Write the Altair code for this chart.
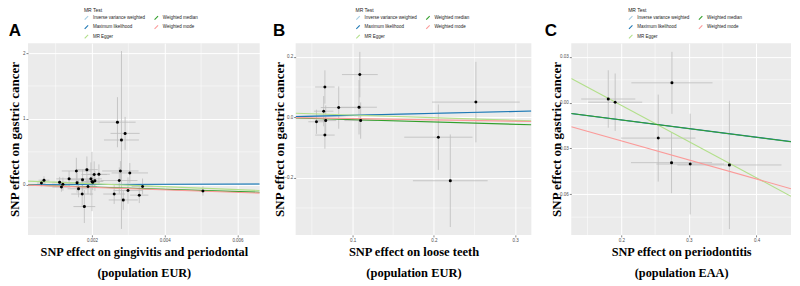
import altair as alt
import pandas as pd

METHODS = ["Inverse variance weighted", "Maximum likelihood", "MR Egger", "Weighted median", "Weighted mode"]
COLORS = ["#A6CEE3", "#1F78B4", "#B2DF8A", "#33A02C", "#FB9A99"]
PANELS = ["A", "B", "C"]
Y_TITLE = "SNP effect on gastric cancer"

# ---- Panel A: gingivitis and periodontal (EUR)
A_X = [0.00061, 0.00068, 0.00111, 0.00116, 0.00120, 0.00137, 0.00157, 0.00159, 0.00163, 0.00173,
       0.00174, 0.00179, 0.00186, 0.00189, 0.00197, 0.00200, 0.00202, 0.00206, 0.00208, 0.00219,
       0.00261, 0.00270, 0.00275, 0.00278, 0.00281, 0.00286, 0.00291, 0.00299, 0.00304, 0.00330,
       0.00339, 0.00505]
A_Y = [0.026, 0.07, 0.04, -0.035, 0.01, 0.09, 0.21, 0.03, -0.06, -0.14,
       0.076, -0.33, 0.23, -0.025, 0.09, 0.05, 0.04, 0.156, 0.06, 0.16,
       -0.14, 0.95, 0.065, 0.21, 0.68, -0.23, 0.78, -0.087, 0.18, -0.157,
       -0.025, -0.095]
A_XSE = [0.00012, 0.00015, 0.0002, 0.00025, 0.0003, 0.00035, 0.0004, 0.00035, 0.0003, 0.0003,
         0.00035, 0.0003, 0.0003, 0.00025, 0.0003, 0.0003, 0.0002, 0.00035, 0.00025, 0.0003,
         0.0003, 0.0005, 0.0005, 0.0005, 0.00048, 0.0004, 0.0004, 0.0004, 0.0005, 0.00025,
         0.0003, 0.0001]
A_YSE = [0.05, 0.06, 0.08, 0.07, 0.1, 0.12, 0.2, 0.15, 0.13, 0.18,
         0.16, 0.25, 0.2, 0.12, 0.25, 0.45, 0.12, 0.2, 0.15, 0.15,
         0.15, 0.38, 0.2, 0.15, 1.35, 0.15, 0.25, 0.2, 0.15, 0.12,
         0.12, 0.07]
A_SLOPE = [1.5, 2.0, -22.3, -17.0, -19.0]
A_INTERCEPT = [0.0, 0.0, 0.061, 0.0, 0.0]
A_XTITLE = ["SNP effect on gingivitis and periodontal", "(population EUR)"]

# ---- Panel B: loose teeth (EUR)
B_X = [0.0556, 0.0645, 0.066, 0.067, 0.066, 0.083, 0.109, 0.108, 0.110, 0.2056, 0.2203, 0.2518]
B_Y = [-0.015, 0.020, 0.10, -0.011, -0.059, 0.032, 0.141, 0.033, -0.011, -0.066, -0.21, 0.050]
B_XSE = [0.01, 0.012, 0.012, 0.013, 0.012, 0.022, 0.022, 0.022, 0.02, 0.042, 0.046, 0.054]
B_YSE = [0.04, 0.05, 0.055, 0.05, 0.045, 0.07, 0.075, 0.09, 0.06, 0.108, 0.153, 0.133]
B_SLOPE = [0.062, 0.064, -0.086, -0.078, -0.044]
B_INTERCEPT = [0.0, 0.0, 0.0156, 0.0, 0.0]
B_XTITLE = ["SNP effect on loose teeth", "(population EUR)"]

# ---- Panel C: periodontitis (EAA)
C_X = [0.1807, 0.1909, 0.2749, 0.2546, 0.2743, 0.3019, 0.3599]
C_Y = [0.0024, 0.0003, 0.0130, -0.0232, -0.0393, -0.0402, -0.0408]
C_XSE = [0.040, 0.040, 0.060, 0.055, 0.060, 0.050, 0.077]
C_YSE = [0.0188, 0.0188, 0.0203, 0.0285, 0.020, 0.033, 0.042]
C_SLOPE = [-0.057, -0.0565, -0.2375, -0.0567, -0.125]
C_INTERCEPT = [0.0, 0.0, 0.0458, 0.0, 0.0]
C_XTITLE = ["SNP effect on periodontitis", "(population EAA)"]


def panel(letter, xs, ys, xse, yse, slopes, intercepts, xdom, ydom, xticks, xminor,
          yticks, yminor, xfmt, yfmt, xtitle, width, height, ytitle_x, letter_x, legend_x,
          xtitle_size):
    pts = pd.DataFrame({"x": xs, "y": ys})
    pts["xlo"] = pts["x"] - pd.Series(xse)
    pts["xhi"] = pts["x"] + pd.Series(xse)
    pts["ylo"] = pts["y"] - pd.Series(yse)
    pts["yhi"] = pts["y"] + pd.Series(yse)

    rows = []
    for i, m in enumerate(METHODS):
        for xv in xdom:
            rows.append({"x": xv, "y": intercepts[i] + slopes[i] * xv, "method": m, "k": i})
    lines = pd.DataFrame(rows)

    xs_ = alt.Scale(domain=xdom, nice=False, zero=False)
    ys_ = alt.Scale(domain=ydom, nice=False, zero=False)
    common = dict(domain=False, tickColor="#333333", tickSize=2, tickWidth=0.6,
                  labelFontSize=4.5, labelColor="#4D4D4D", labelFont="Liberation Sans",
                  labelPadding=1, grid=True, gridColor="white", gridWidth=1,
                  titleFont="Liberation Serif", titleFontWeight="bold", titleColor="black")
    xax = alt.Axis(values=xticks, format=xfmt, title=xtitle, titleFontSize=xtitle_size,
                   titleY=11, titleBaseline="top", titleLineHeight=21, labelFlush=False,
                   **common)
    yax = alt.Axis(values=yticks, format=yfmt, title=Y_TITLE, titleFontSize=13,
                   titleX=ytitle_x, titleY=height / 2, titleAngle=270, titleAlign="center",
                   titleBaseline="middle", labelFlush=False, **common)

    def X(f):
        return alt.X(f, type="quantitative", scale=xs_, axis=xax)

    def Y(f):
        return alt.Y(f, type="quantitative", scale=ys_, axis=yax)

    minor_v = alt.Chart(pd.DataFrame({"x": xminor})).mark_rule(color="white", strokeWidth=0.5).encode(x=X("x"))
    minor_h = alt.Chart(pd.DataFrame({"y": yminor})).mark_rule(color="white", strokeWidth=0.5).encode(y=Y("y"))
    vbar = alt.Chart(pts).mark_rule(color="#BDBDBD", strokeWidth=0.8, clip=True).encode(
        x=X("x"), y=Y("ylo"), y2="yhi")
    hbar = alt.Chart(pts).mark_rule(color="#BDBDBD", strokeWidth=0.8, clip=True).encode(
        y=Y("y"), x=X("xlo"), x2="xhi")
    line = alt.Chart(lines).mark_line(strokeWidth=1.1, clip=True).encode(
        x=X("x"), y=Y("y"),
        color=alt.Color("method:N",
                        scale=alt.Scale(domain=METHODS, range=COLORS),
                        legend=alt.Legend(title="MR Test", orient="none", legendX=legend_x,
                                          legendY=-35, columns=2, symbolType="M-1,1L1,-1",
                                          symbolSize=12, symbolStrokeWidth=1.1,
                                          labelFontSize=4.5, labelFont="Liberation Sans",
                                          labelColor="#222222", labelLimit=200,
                                          titleFontSize=5, titleFont="Liberation Sans",
                                          titleFontWeight="normal", titleColor="#222222",
                                          titlePadding=2, rowPadding=0.5, columnPadding=6,
                                          labelOffset=4, padding=0)),
        detail="k:O", order="k:O")
    dots = alt.Chart(pts).mark_circle(size=9, color="black", opacity=1).encode(x=X("x"), y=Y("y"))
    lab = alt.Chart(pd.DataFrame({"t": [letter]})).mark_text(
        font="Liberation Sans", fontWeight="bold", fontSize=17, align="center",
        baseline="alphabetic", color="black").encode(
        text="t:N", x=alt.value(letter_x), y=alt.value(-7))
    return alt.layer(minor_v, minor_h, vbar, hbar, line, dots, lab).properties(
        width=width, height=height)


H = 192
pA = panel(PANELS[0], A_X, A_Y, A_XSE, A_YSE, A_SLOPE, A_INTERCEPT,
           [0.00024, 0.00661], [-0.76, 2.15], [0.002, 0.004, 0.006], [0.001, 0.003, 0.005],
           [0, 1, 2], [-0.5, 0.5, 1.5], ".3f", ".0f", A_XTITLE, 232, H, -13, -13, 56, 12.3)
pB = panel(PANELS[1], B_X, B_Y, B_XSE, B_YSE, B_SLOPE, B_INTERCEPT,
           [0.030, 0.32], [-0.389, 0.245], [0.1, 0.2, 0.3], [0.05, 0.15, 0.25],
           [-0.2, 0.0, 0.2], [-0.3, -0.1, 0.1], ".1f", ".1f", B_XTITLE, 236, H, -16, -16.5, 60, 12.5)
pC = panel(PANELS[2], C_X, C_Y, C_XSE, C_YSE, C_SLOPE, C_INTERCEPT,
           [0.126, 0.451], [-0.0866, 0.039], [0.2, 0.3, 0.4], [0.15, 0.25, 0.35],
           [-0.06, -0.03, 0.0, 0.03], [-0.075, -0.045, -0.015, 0.015], ".1f", ".2f",
           C_XTITLE, 220, H, -15, -20.5, 57, 12.3)

chart = alt.hconcat(pA, pB, pC, spacing=12).resolve_scale(
    color="independent").resolve_legend(color="independent").configure_view(
    fill="#EBEBEB", stroke=None).properties(padding=0, background="white")

chart.save("out.html", embed_options={"renderer": "svg", "actions": False})
